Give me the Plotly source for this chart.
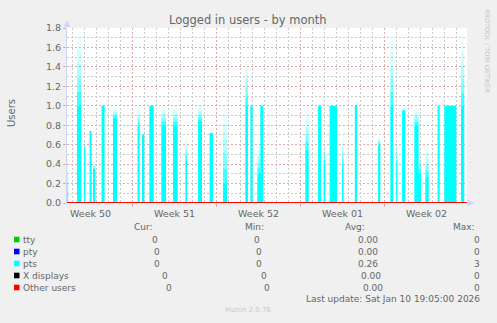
import plotly.graph_objects as go

# ---- data (x in days from the left edge of the month window) ----
x_end = 33.33
week_bounds = [5.47, 12.47, 19.47, 26.47]
week_labels = ["Week 50", "Week 51", "Week 52", "Week 01", "Week 02"]
week_centers = [1.97, 8.97, 15.97, 22.97, 29.97]

spike_start = [0.00, 0.83, 1.42, 1.88, 2.17, 2.88, 3.83, 5.88, 6.25, 6.86, 7.86, 8.83,
               9.86, 10.92, 11.88, 13.00, 14.86, 15.28, 15.86, 16.11, 19.86, 20.92,
               21.38, 21.88, 22.92, 23.98, 25.92, 26.94, 27.42, 27.92, 28.94, 29.30,
               29.86, 30.88, 31.44, 32.83]
spike_end = [0.10, 1.19, 1.53, 2.05, 2.36, 3.13, 4.17, 6.05, 6.44, 7.22, 8.25, 9.22,
             10.00, 11.25, 12.17, 13.33, 15.08, 15.47, 16.11, 16.36, 20.14, 21.17,
             21.53, 22.50, 23.05, 24.17, 26.11, 27.17, 27.53, 28.19, 29.30, 29.50,
             30.14, 31.05, 32.44, 33.10]
spike_solid = [0.00, 1.00, 0.58, 0.74, 0.35, 1.00, 0.88, 0.80, 0.70, 1.00, 0.80, 0.80,
               0.45, 0.85, 0.72, 0.20, 1.00, 1.00, 0.30, 1.00, 0.55, 1.00,
               0.40, 1.00, 0.40, 1.00, 0.60, 1.00, 0.40, 0.95, 0.80, 0.30,
               0.27, 1.00, 1.00, 1.00]
spike_peak = [0.50, 1.72, 0.58, 0.74, 0.42, 1.00, 0.98, 1.00, 0.72, 1.00, 1.00, 1.00,
              0.68, 1.00, 0.72, 0.97, 1.47, 1.00, 0.60, 1.00, 0.94, 1.00,
              0.62, 1.00, 0.70, 1.00, 0.68, 1.69, 0.62, 0.98, 0.97, 0.50,
              0.58, 1.00, 1.00, 1.70]

series_names = ["tty", "pty", "pts", "X displays", "Other users"]
series_colors = ["#00CC00", "#0000FF", "#00FFFF", "#000000", "#FF0000"]
cur_vals = ["0", "0", "0", "0", "0"]
min_vals = ["0", "0", "0", "0", "0"]
avg_vals = ["0.00", "0.00", "0.26", "0.00", "0.00"]
max_vals = ["0", "0", "3", "0", "0"]

title = "Logged in users - by month"
last_update = "Last update: Sat Jan 10 19:05:00 2026"

# ---- layout geometry ----
W, H = 497, 323
L, R, T, B = 67, 30, 28, 120
PW, PH = W - L - R, H - T - B
FONT = "DejaVu Sans"
FC = "#666666"
MAJ = "#E4A8A8"
MIN = "#C8C8C8"
AX = "#CFD6F8"
XDASH = "2px,2px"
YDASH = "2px,2px"


def px(xp):
    return (xp - L) / PW


def py(yp):
    return (H - B - yp) / PH


fig = go.Figure()

# faded peak parts (max values above the average level)
fade_alpha = [0.75, 0.5, 0.32, 0.18, 0.08]
nb = len(fade_alpha)
for k, a in enumerate(fade_alpha):
    bx, by = [], []
    for s, e, v, p in zip(spike_start, spike_end, spike_solid, spike_peak):
        if p > v:
            y0 = v + (p - v) * k / nb
            y1 = v + (p - v) * (k + 1) / nb
            bx += [s, s, e, e, s, None]
            by += [y0, y1, y1, y0, y0, None]
    fig.add_trace(go.Scatter(
        x=bx, y=by, mode="lines", fill="toself",
        fillcolor=f"rgba(0,255,255,{a})",
        line=dict(width=0, color="rgba(0,0,0,0)"),
        hoverinfo="skip", showlegend=False))

# solid pts area
xs, ys = [0.0], [0.0]
for s, e, v in zip(spike_start, spike_end, spike_solid):
    xs += [s, s, e, e]
    ys += [0, v, v, 0]
xs.append(x_end)
ys.append(0)
fig.add_trace(go.Scatter(x=xs, y=ys, mode="lines", fill="tozeroy",
                         fillcolor="#00FFFF", line=dict(width=0, color="#00FFFF"),
                         hoverinfo="skip", showlegend=False))

# zero-valued series drawn as lines along the baseline
for name, col in zip(series_names, series_colors):
    if name == "pts":
        continue
    fig.add_trace(go.Scatter(x=[0, x_end], y=[0, 0], mode="lines",
                             line=dict(color=col, width=2), hoverinfo="skip",
                             showlegend=False))

fig.update_layout(
    width=W, height=H,
    margin=dict(l=L, r=R, t=T, b=B, pad=0),
    paper_bgcolor="#F0F0F0", plot_bgcolor="#FFFFFF",
    font=dict(family=FONT, size=9, color=FC),
    showlegend=False,
)

fig.update_xaxes(
    range=[0, x_end], tickvals=week_bounds, ticktext=["", "", "", ""],
    showgrid=True, gridcolor=MAJ, griddash=XDASH, gridwidth=1,
    ticks="outside", ticklen=3, tickcolor=MAJ,
    minor=dict(tick0=0.47, dtick=1, showgrid=True, gridcolor=MIN,
               griddash=XDASH, gridwidth=1, ticks=""),
    showline=False, zeroline=False, fixedrange=True,
)
fig.update_yaxes(
    range=[0, 1.8], dtick=0.2, tickformat=".1f",
    showgrid=True, gridcolor=MAJ, griddash=YDASH, gridwidth=1,
    ticks="outside", ticklen=3, tickcolor=MAJ,
    minor=dict(dtick=0.1, showgrid=True, gridcolor=MIN, griddash=YDASH,
               gridwidth=1, ticks=""),
    showline=True, linecolor=AX, linewidth=1,
    zeroline=False, tickfont=dict(size=9.5, color=FC), fixedrange=True,
)

ann = []
# week labels
for xc, lab in zip(week_centers, week_labels):
    ann.append(dict(x=xc, xref="x", y=py(213), yref="paper", text=lab,
                    showarrow=False, xanchor="center", yanchor="middle",
                    font=dict(size=9.5, color=FC)))
# title
ann.append(dict(x=px(247.5), y=py(20), xref="paper", yref="paper", text=title,
                showarrow=False, xanchor="center", yanchor="middle",
                font=dict(size=11.5, color=FC)))
# y label
ann.append(dict(x=px(11), y=py(113), xref="paper", yref="paper", text="Users",
                showarrow=False, textangle=-90, xanchor="center", yanchor="middle",
                font=dict(size=10, color=FC)))
# rrdtool watermark
ann.append(dict(x=px(487), y=py(51), xref="paper", yref="paper",
                text="RRDTOOL / TOBI OETIKER", showarrow=False, textangle=90,
                xanchor="center", yanchor="middle",
                font=dict(size=6.5, color="#C4C4C4")))

# legend table
ann.append(dict(x=px(155), y=py(227), xref="paper", yref="paper", text="Cur:",
                showarrow=False, xanchor="right", yanchor="middle"))
ann.append(dict(x=px(266), y=py(227), xref="paper", yref="paper", text="Min:",
                showarrow=False, xanchor="right", yanchor="middle"))
ann.append(dict(x=px(367), y=py(227), xref="paper", yref="paper", text="Avg:",
                showarrow=False, xanchor="right", yanchor="middle"))
ann.append(dict(x=px(477), y=py(227), xref="paper", yref="paper", text="Max:",
                showarrow=False, xanchor="right", yanchor="middle"))

row_y = [239.5, 251.5, 263.5, 275.5, 287.5]
cur_r = [160, 162, 162, 170, 174]
min_r = [262, 264, 264, 269, 272]
avg_r = [380, 380, 380, 383, 385]
max_r = [482, 482, 482, 482, 482]

# axis arrows
shapes = [
    dict(type="path", xref="paper", yref="paper", fillcolor=AX, line=dict(width=0),
         path=f"M {px(63.5)} {py(27)} L {px(70.5)} {py(27)} L {px(67)} {py(20)} Z"),
    dict(type="path", xref="paper", yref="paper", fillcolor=AX, line=dict(width=0),
         path=f"M {px(467.5)} {py(199.5)} L {px(467.5)} {py(206.5)} L {px(474.5)} {py(203)} Z"),
]
for i, name in enumerate(series_names):
    yy = py(row_y[i])
    shapes.append(dict(type="rect", xref="paper", yref="paper",
                       x0=px(14), x1=px(19.5), y0=py(row_y[i] + 2.8), y1=py(row_y[i] - 2.8),
                       fillcolor=series_colors[i], line=dict(width=0)))
    ann.append(dict(x=px(20.5), y=yy, xref="paper", yref="paper", text=name,
                    showarrow=False, xanchor="left", yanchor="middle"))
    for vals, rr in ((cur_vals, cur_r), (min_vals, min_r), (avg_vals, avg_r), (max_vals, max_r)):
        ann.append(dict(x=px(rr[i]), y=yy, xref="paper", yref="paper", text=vals[i],
                        showarrow=False, xanchor="right", yanchor="middle"))

ann.append(dict(x=px(482), y=py(299), xref="paper", yref="paper", text=last_update,
                showarrow=False, xanchor="right", yanchor="middle"))
ann.append(dict(x=px(248), y=py(310), xref="paper", yref="paper", text="Munin 2.0.76",
                showarrow=False, xanchor="center", yanchor="middle",
                font=dict(size=7, color="#C8C8C8")))

for a in ann:
    a.setdefault("font", dict(size=9, color=FC))
fig.update_layout(annotations=ann, shapes=shapes)

fig.write_html("out.html")
